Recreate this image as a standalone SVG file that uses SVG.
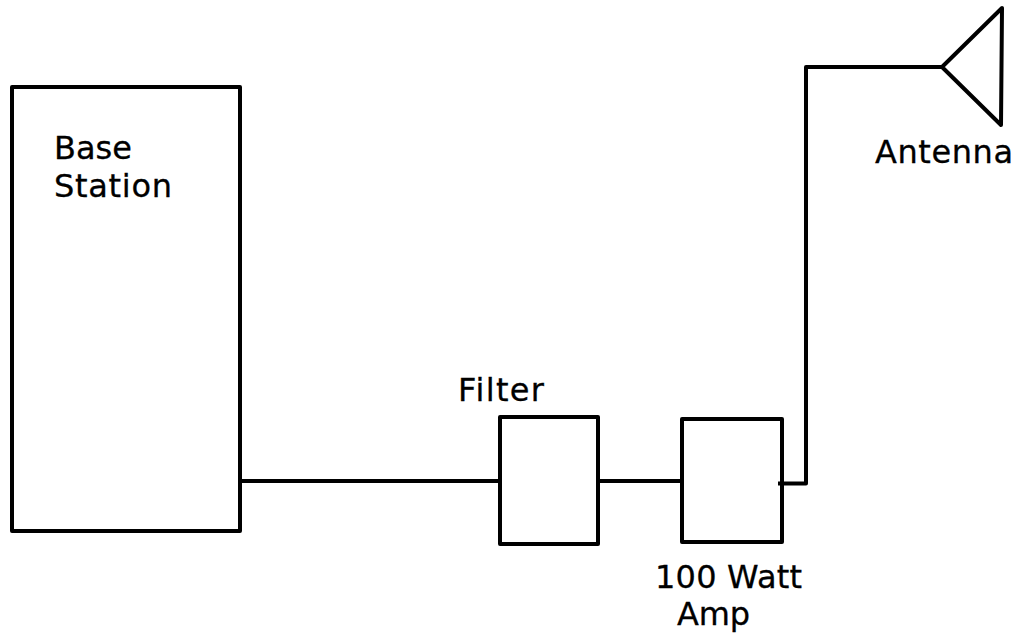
<svg xmlns="http://www.w3.org/2000/svg" width="1020" height="634" viewBox="0 0 1020 634">
<style>
.b{fill:none;stroke:#000;stroke-width:4;stroke-linejoin:round}
text{font-family:"DejaVu Sans",Verdana,sans-serif;font-size:32px;fill:#000;stroke:#000;stroke-width:.3}
</style>
<rect width="1020" height="634" fill="#fff"/>
<g id="connectors">
<path class="b" d="M241 481H499"/>
<path class="b" d="M598 481H681"/>
<path class="b" d="M778 483.500H806V67H942"/>
</g>
<g id="base-station"><rect class="b" x="12" y="87" width="228" height="444"/><text x="54" y="159" textLength="78">Base</text><text x="54" y="197" textLength="118">Station</text></g>
<g id="filter"><rect class="b" x="500" y="417" width="98" height="127"/><text x="458" y="401" textLength="86">Filter</text></g>
<g id="amp"><rect class="b" x="682" y="419" width="100" height="123"/><text x="655" y="588" textLength="147">100 Watt</text><text x="677" y="625" textLength="73">Amp</text></g>
<g id="antenna"><path class="b" d="M1002 8L1001 125L942 67Z"/><text x="875" y="163" textLength="138">Antenna</text></g>
</svg>
